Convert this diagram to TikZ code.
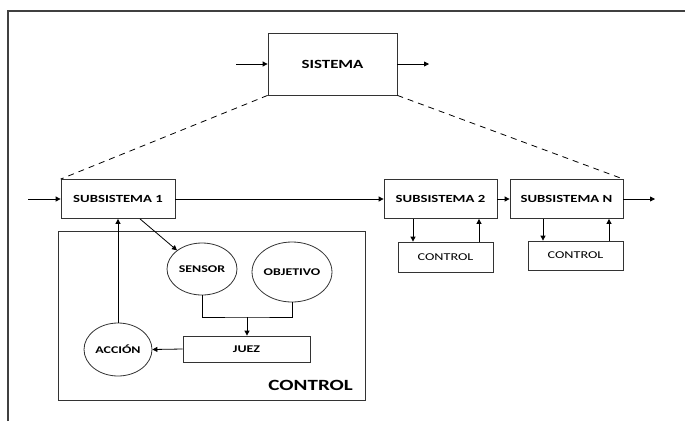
\documentclass[tikz,border=0pt]{standalone}
\usepackage{fontspec}
\usepackage{graphicx}
\setmainfont{Carlito}
\usetikzlibrary{arrows.meta,shapes.geometric}
\newcommand\stretchtxt[1]{\scalebox{1.35}[1]{#1}}
\begin{document}
\begin{tikzpicture}[x=1pt,y=-1pt,
  box/.style={draw=black!80,line width=0.8pt,rectangle,inner sep=0pt},
  oval/.style={draw=black!80,line width=0.8pt,ellipse,inner sep=0pt},
  lbl/.style={font=\bfseries\fontsize{10.3}{11}\selectfont},
  arr/.style={line width=0.8pt,-{Triangle[length=5pt,width=5pt]}},
  ln/.style={line width=0.8pt}]
\useasboundingbox (0,0) rectangle (685,421);
% frame
\draw[line width=1.2pt,black!75] (8,421) -- (8,11) -- (685,11);
% sistema
\node[box,minimum width=129pt,minimum height=62pt,font=\bfseries\fontsize{12.5}{13}\selectfont] (sis) at (332.5,64) {\stretchtxt{SISTEMA}};
\coordinate (sin) at (236,64);
\coordinate (sout) at (429,64);
\draw[arr] (sin) -- (sis.west);
\draw[arr] (sis.east) -- (sout);
% subsystems
\node[box,minimum width=114pt,minimum height=39pt,font=\bfseries\fontsize{10.9}{11}\selectfont] (s1) at (118,199) {\stretchtxt{SUBSISTEMA 1}};
\node[box,minimum width=113pt,minimum height=39pt,font=\bfseries\fontsize{10.9}{11}\selectfont] (s2) at (440.5,199) {\stretchtxt{SUBSISTEMA 2}};
\node[box,minimum width=113pt,minimum height=39pt,font=\bfseries\fontsize{10.9}{11}\selectfont] (sn) at (566.5,199) {\stretchtxt{SUBSISTEMA N}};
\coordinate (s1in) at (28,199);
\coordinate (snout) at (655,199);
\draw[arr] (s1in) -- (s1.west);
\draw[arr] (s1.east) -- (s2.west);
\draw[arr] (s2.east) -- (sn.west);
\draw[arr] (sn.east) -- (snout);
% dashed
\draw[ln,dash pattern=on 6pt off 5pt] (sis.south west) -- (s1.north west);
\draw[ln,dash pattern=on 6pt off 5pt] (sis.south east) -- (sn.north east);
% small controls
\node[box,minimum width=95pt,minimum height=30pt,font=\fontsize{10.5}{11}\selectfont] (c2) at (445.5,257) {\stretchtxt{CONTROL}};
\node[box,minimum width=95pt,minimum height=29pt,font=\fontsize{10.5}{11}\selectfont] (cn) at (575.5,255.5) {\stretchtxt{CONTROL}};
\draw[arr] (s2.south -| 413,0) -- (c2.north -| 413,0);
\draw[arr] (c2.north -| 479,0) -- (s2.south -| 479,0);
\draw[arr] (sn.south -| 543,0) -- (cn.north -| 543,0);
\draw[arr] (cn.north -| 609,0) -- (sn.south -| 609,0);
% big control
\node[box,minimum width=307pt,minimum height=169pt] (cbig) at (211.5,315.5) {};
\node[anchor=base east,font=\bfseries\fontsize{15.6}{16}\selectfont,inner sep=0pt] (ctl) at (353,390) {\stretchtxt{CONTROL}};
\node[oval,lbl,minimum width=70pt,minimum height=52pt] (sen) at (202,269) {\stretchtxt{SENSOR}};
\node[oval,lbl,minimum width=74pt,minimum height=60pt] (obj) at (292,272) {\stretchtxt{OBJETIVO}};
\node[box,lbl,minimum width=127pt,minimum height=26pt] (juez) at (246.5,349) {\stretchtxt{JUEZ}};
\node[oval,lbl,minimum width=68pt,minimum height=53pt] (acc) at (118,349.5) {\stretchtxt{ACCIÓN}};
\coordinate (mj) at (247,317);
\draw[ln] (sen.south) |- (mj) -| (obj.south);
\draw[arr] (mj) -- (juez.north -| mj);
\draw[arr] (juez.west) -- (acc.east);
\draw[arr] (acc.north) -- (acc.north |- s1.south);
\draw[arr] (s1.south -| 140,0) -- (sen.north west);
\end{tikzpicture}
\end{document}
